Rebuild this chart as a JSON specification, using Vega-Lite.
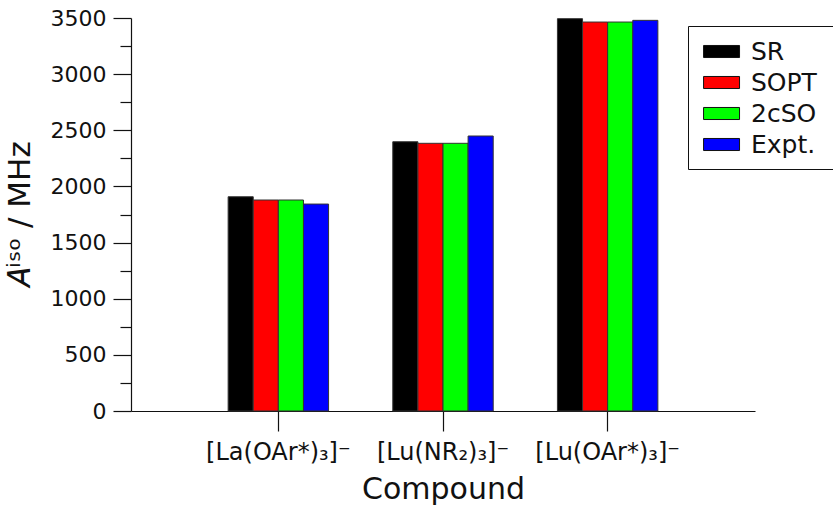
{
  "$schema": "https://vega.github.io/schema/vega-lite/v6.json",
  "width": 624,
  "height": 393,
  "autosize": "none",
  "padding": {"left": 131, "top": 18, "right": 78, "bottom": 95},
  "background": "white",
  "config": {
    "view": {"stroke": null},
    "font": "DejaVu Sans",
    "axis": {"domainColor": "#111", "tickColor": "#111", "labelColor": "#111", "titleColor": "#111", "grid": false, "titleFontWeight": "normal", "domainWidth": 1.2, "tickWidth": 1.2}
  },
  "data": {
    "values": [
      {"compound": "[La(OAr*)₃]⁻", "method": "SR", "value": 1908},
      {"compound": "[La(OAr*)₃]⁻", "method": "SOPT", "value": 1879},
      {"compound": "[La(OAr*)₃]⁻", "method": "2cSO", "value": 1879},
      {"compound": "[La(OAr*)₃]⁻", "method": "Expt.", "value": 1843},
      {"compound": "[Lu(NR₂)₃]⁻", "method": "SR", "value": 2398},
      {"compound": "[Lu(NR₂)₃]⁻", "method": "SOPT", "value": 2384},
      {"compound": "[Lu(NR₂)₃]⁻", "method": "2cSO", "value": 2384},
      {"compound": "[Lu(NR₂)₃]⁻", "method": "Expt.", "value": 2449},
      {"compound": "[Lu(OAr*)₃]⁻", "method": "SR", "value": 3494},
      {"compound": "[Lu(OAr*)₃]⁻", "method": "SOPT", "value": 3464},
      {"compound": "[Lu(OAr*)₃]⁻", "method": "2cSO", "value": 3464},
      {"compound": "[Lu(OAr*)₃]⁻", "method": "Expt.", "value": 3479}
    ]
  },
  "mark": {"type": "bar", "stroke": "#333", "strokeWidth": 1},
  "encoding": {
    "x": {
      "field": "compound",
      "type": "nominal",
      "sort": null,
      "scale": {"paddingInner": 0.39, "paddingOuter": 0.59},
      "axis": {
        "title": "Compound",
        "titleFontSize": 30,
        "titlePadding": 10,
        "labelFontSize": 24,
        "labelAngle": 0,
        "labelPadding": 9,
        "tickSize": 20
      }
    },
    "xOffset": {
      "field": "method",
      "type": "nominal",
      "sort": ["SR", "SOPT", "2cSO", "Expt."],
      "scale": {"paddingInner": 0, "paddingOuter": 0}
    },
    "y": {
      "field": "value",
      "type": "quantitative",
      "scale": {"domain": [0, 3500], "nice": false},
      "axis": {
        "title": "𝐴ⁱˢᵒ / MHz",
        "titleFontSize": 31,
        "titlePadding": 14,
        "values": [0, 250, 500, 750, 1000, 1250, 1500, 1750, 2000, 2250, 2500, 2750, 3000, 3250, 3500],
        "labelExpr": "datum.value % 500 === 0 ? datum.value : ''",
        "labelFontSize": 22,
        "labelPadding": 7,
        "tickSize": {"condition": {"test": "datum.value % 500 === 0", "value": 18}, "value": 11}
      }
    },
    "color": {
      "field": "method",
      "type": "nominal",
      "sort": ["SR", "SOPT", "2cSO", "Expt."],
      "scale": {"domain": ["SR", "SOPT", "2cSO", "Expt."], "range": ["#000000", "#ff0000", "#00ff00", "#0000ff"]},
      "legend": {
        "title": " ",
        "titleOrient": "right",
        "titleFontSize": 2,
        "titlePadding": 24,
        "orient": "none",
        "legendX": 557,
        "legendY": 8,
        "padding": 11,
        "strokeColor": "#111",
        "fillColor": "white",
        "symbolType": "M-0.71,-0.43H1.86V0.43H-0.71Z",
        "symbolSize": 784,
        "symbolStrokeColor": "#111",
        "symbolStrokeWidth": 1,
        "symbolOpacity": 1,
        "labelFontSize": 25,
        "labelColor": "#111",
        "labelOffset": 23,
        "rowPadding": 3
      }
    }
  }
}
